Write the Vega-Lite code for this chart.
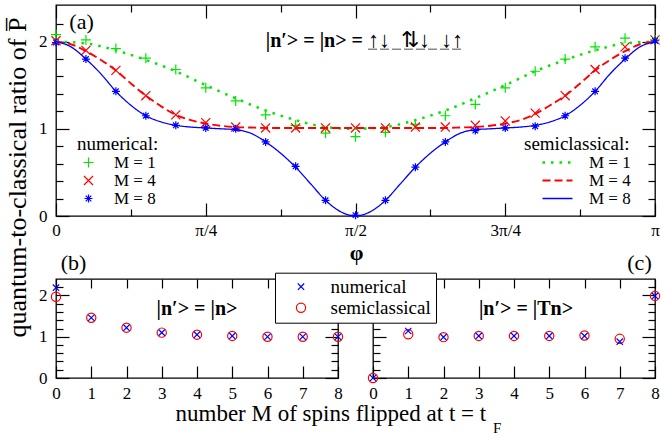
{
"$schema":"https://vega.github.io/schema/vega-lite/v6.json",
"background":"white",
"padding":{"left":3,"top":3,"right":0,"bottom":0},
"bounds":"flush",
"spacing":63,
"datasets":{
"num":[
{"phi":0,"v":2.08,"M":"M = 1"},{"phi":0.05,"v":2.02,"M":"M = 1"},{"phi":0.1,"v":1.92,"M":"M = 1"},{"phi":0.15,"v":1.81,"M":"M = 1"},{"phi":0.2,"v":1.68,"M":"M = 1"},{"phi":0.25,"v":1.47,"M":"M = 1"},{"phi":0.3,"v":1.32,"M":"M = 1"},{"phi":0.35,"v":1.16,"M":"M = 1"},{"phi":0.4,"v":1.04,"M":"M = 1"},{"phi":0.45,"v":0.95,"M":"M = 1"},{"phi":0.5,"v":0.91,"M":"M = 1"},{"phi":0.55,"v":0.96,"M":"M = 1"},{"phi":0.6,"v":1.05,"M":"M = 1"},{"phi":0.65,"v":1.15,"M":"M = 1"},{"phi":0.7,"v":1.28,"M":"M = 1"},{"phi":0.75,"v":1.47,"M":"M = 1"},{"phi":0.8,"v":1.66,"M":"M = 1"},{"phi":0.85,"v":1.8,"M":"M = 1"},{"phi":0.9,"v":1.94,"M":"M = 1"},{"phi":0.95,"v":2.04,"M":"M = 1"},{"phi":1,"v":2.02,"M":"M = 1"},
{"phi":0,"v":2.01,"M":"M = 4"},{"phi":0.05,"v":1.9,"M":"M = 4"},{"phi":0.1,"v":1.67,"M":"M = 4"},{"phi":0.15,"v":1.38,"M":"M = 4"},{"phi":0.2,"v":1.16,"M":"M = 4"},{"phi":0.25,"v":1.07,"M":"M = 4"},{"phi":0.3,"v":1.02,"M":"M = 4"},{"phi":0.35,"v":1.01,"M":"M = 4"},{"phi":0.4,"v":1.01,"M":"M = 4"},{"phi":0.45,"v":1.01,"M":"M = 4"},{"phi":0.5,"v":1.01,"M":"M = 4"},{"phi":0.55,"v":1.01,"M":"M = 4"},{"phi":0.6,"v":1.02,"M":"M = 4"},{"phi":0.65,"v":1.02,"M":"M = 4"},{"phi":0.7,"v":1.04,"M":"M = 4"},{"phi":0.75,"v":1.09,"M":"M = 4"},{"phi":0.8,"v":1.18,"M":"M = 4"},{"phi":0.85,"v":1.38,"M":"M = 4"},{"phi":0.9,"v":1.68,"M":"M = 4"},{"phi":0.95,"v":1.94,"M":"M = 4"},{"phi":1,"v":2.02,"M":"M = 4"},
{"phi":0,"v":1.99,"M":"M = 8"},{"phi":0.05,"v":1.8,"M":"M = 8"},{"phi":0.1,"v":1.43,"M":"M = 8"},{"phi":0.15,"v":1.15,"M":"M = 8"},{"phi":0.2,"v":1.04,"M":"M = 8"},{"phi":0.25,"v":1.01,"M":"M = 8"},{"phi":0.3,"v":1.0,"M":"M = 8"},{"phi":0.35,"v":0.85,"M":"M = 8"},{"phi":0.4,"v":0.57,"M":"M = 8"},{"phi":0.45,"v":0.18,"M":"M = 8"},{"phi":0.5,"v":0.01,"M":"M = 8"},{"phi":0.55,"v":0.18,"M":"M = 8"},{"phi":0.6,"v":0.56,"M":"M = 8"},{"phi":0.65,"v":0.85,"M":"M = 8"},{"phi":0.7,"v":0.98,"M":"M = 8"},{"phi":0.75,"v":1.01,"M":"M = 8"},{"phi":0.8,"v":1.03,"M":"M = 8"},{"phi":0.85,"v":1.15,"M":"M = 8"},{"phi":0.9,"v":1.43,"M":"M = 8"},{"phi":0.95,"v":1.81,"M":"M = 8"},{"phi":1,"v":2.01,"M":"M = 8"}
],
"semi":[
{"phi":0,"v":2.0,"M":"M = 1"},{"phi":0.05,"v":1.98,"M":"M = 1"},{"phi":0.1,"v":1.9,"M":"M = 1"},{"phi":0.15,"v":1.79,"M":"M = 1"},{"phi":0.2,"v":1.66,"M":"M = 1"},{"phi":0.25,"v":1.5,"M":"M = 1"},{"phi":0.3,"v":1.35,"M":"M = 1"},{"phi":0.35,"v":1.21,"M":"M = 1"},{"phi":0.4,"v":1.1,"M":"M = 1"},{"phi":0.45,"v":1.02,"M":"M = 1"},{"phi":0.5,"v":1.0,"M":"M = 1"},{"phi":0.55,"v":1.02,"M":"M = 1"},{"phi":0.6,"v":1.1,"M":"M = 1"},{"phi":0.65,"v":1.21,"M":"M = 1"},{"phi":0.7,"v":1.35,"M":"M = 1"},{"phi":0.75,"v":1.5,"M":"M = 1"},{"phi":0.8,"v":1.66,"M":"M = 1"},{"phi":0.85,"v":1.79,"M":"M = 1"},{"phi":0.9,"v":1.9,"M":"M = 1"},{"phi":0.95,"v":1.98,"M":"M = 1"},{"phi":1,"v":2.0,"M":"M = 1"},
{"phi":0,"v":2.0,"M":"M = 4"},{"phi":0.025,"v":1.97,"M":"M = 4"},{"phi":0.05,"v":1.89,"M":"M = 4"},{"phi":0.075,"v":1.79,"M":"M = 4"},{"phi":0.1,"v":1.67,"M":"M = 4"},{"phi":0.125,"v":1.52,"M":"M = 4"},{"phi":0.15,"v":1.38,"M":"M = 4"},{"phi":0.175,"v":1.26,"M":"M = 4"},{"phi":0.2,"v":1.16,"M":"M = 4"},{"phi":0.225,"v":1.1,"M":"M = 4"},{"phi":0.25,"v":1.06,"M":"M = 4"},{"phi":0.275,"v":1.035,"M":"M = 4"},{"phi":0.3,"v":1.02,"M":"M = 4"},{"phi":0.325,"v":1.015,"M":"M = 4"},{"phi":0.35,"v":1.01,"M":"M = 4"},{"phi":0.375,"v":1.01,"M":"M = 4"},{"phi":0.4,"v":1.01,"M":"M = 4"},{"phi":0.425,"v":1.01,"M":"M = 4"},{"phi":0.45,"v":1.01,"M":"M = 4"},{"phi":0.475,"v":1.01,"M":"M = 4"},{"phi":0.5,"v":1.01,"M":"M = 4"},{"phi":0.525,"v":1.01,"M":"M = 4"},{"phi":0.55,"v":1.01,"M":"M = 4"},{"phi":0.575,"v":1.01,"M":"M = 4"},{"phi":0.6,"v":1.01,"M":"M = 4"},{"phi":0.625,"v":1.01,"M":"M = 4"},{"phi":0.65,"v":1.01,"M":"M = 4"},{"phi":0.675,"v":1.015,"M":"M = 4"},{"phi":0.7,"v":1.02,"M":"M = 4"},{"phi":0.725,"v":1.035,"M":"M = 4"},{"phi":0.75,"v":1.06,"M":"M = 4"},{"phi":0.775,"v":1.1,"M":"M = 4"},{"phi":0.8,"v":1.17,"M":"M = 4"},{"phi":0.825,"v":1.27,"M":"M = 4"},{"phi":0.85,"v":1.38,"M":"M = 4"},{"phi":0.875,"v":1.52,"M":"M = 4"},{"phi":0.9,"v":1.67,"M":"M = 4"},{"phi":0.925,"v":1.79,"M":"M = 4"},{"phi":0.95,"v":1.89,"M":"M = 4"},{"phi":0.975,"v":1.97,"M":"M = 4"},{"phi":1,"v":2.0,"M":"M = 4"},
{"phi":0,"v":2.0,"M":"M = 8"},{"phi":0.025,"v":1.94,"M":"M = 8"},{"phi":0.05,"v":1.8,"M":"M = 8"},{"phi":0.075,"v":1.63,"M":"M = 8"},{"phi":0.1,"v":1.43,"M":"M = 8"},{"phi":0.125,"v":1.27,"M":"M = 8"},{"phi":0.15,"v":1.15,"M":"M = 8"},{"phi":0.175,"v":1.08,"M":"M = 8"},{"phi":0.2,"v":1.04,"M":"M = 8"},{"phi":0.225,"v":1.02,"M":"M = 8"},{"phi":0.25,"v":1.01,"M":"M = 8"},{"phi":0.275,"v":1.0,"M":"M = 8"},{"phi":0.3,"v":0.99,"M":"M = 8"},{"phi":0.325,"v":0.95,"M":"M = 8"},{"phi":0.35,"v":0.85,"M":"M = 8"},{"phi":0.375,"v":0.72,"M":"M = 8"},{"phi":0.4,"v":0.56,"M":"M = 8"},{"phi":0.425,"v":0.37,"M":"M = 8"},{"phi":0.45,"v":0.18,"M":"M = 8"},{"phi":0.475,"v":0.05,"M":"M = 8"},{"phi":0.5,"v":0.0,"M":"M = 8"},{"phi":0.525,"v":0.05,"M":"M = 8"},{"phi":0.55,"v":0.18,"M":"M = 8"},{"phi":0.575,"v":0.37,"M":"M = 8"},{"phi":0.6,"v":0.56,"M":"M = 8"},{"phi":0.625,"v":0.72,"M":"M = 8"},{"phi":0.65,"v":0.85,"M":"M = 8"},{"phi":0.675,"v":0.95,"M":"M = 8"},{"phi":0.7,"v":0.99,"M":"M = 8"},{"phi":0.725,"v":1.0,"M":"M = 8"},{"phi":0.75,"v":1.01,"M":"M = 8"},{"phi":0.775,"v":1.02,"M":"M = 8"},{"phi":0.8,"v":1.04,"M":"M = 8"},{"phi":0.825,"v":1.08,"M":"M = 8"},{"phi":0.85,"v":1.15,"M":"M = 8"},{"phi":0.875,"v":1.27,"M":"M = 8"},{"phi":0.9,"v":1.43,"M":"M = 8"},{"phi":0.925,"v":1.63,"M":"M = 8"},{"phi":0.95,"v":1.8,"M":"M = 8"},{"phi":0.975,"v":1.94,"M":"M = 8"},{"phi":1,"v":2.0,"M":"M = 8"}
],
"b":[
{"M":0,"v":1.97,"kind":"semiclassical"},{"M":1,"v":1.46,"kind":"semiclassical"},{"M":2,"v":1.22,"kind":"semiclassical"},{"M":3,"v":1.1,"kind":"semiclassical"},{"M":4,"v":1.05,"kind":"semiclassical"},{"M":5,"v":1.02,"kind":"semiclassical"},{"M":6,"v":1.0,"kind":"semiclassical"},{"M":7,"v":1.0,"kind":"semiclassical"},{"M":8,"v":1.0,"kind":"semiclassical"},
{"M":0,"v":2.19,"kind":"numerical"},{"M":1,"v":1.46,"kind":"numerical"},{"M":2,"v":1.22,"kind":"numerical"},{"M":3,"v":1.1,"kind":"numerical"},{"M":4,"v":1.05,"kind":"numerical"},{"M":5,"v":1.02,"kind":"numerical"},{"M":6,"v":1.0,"kind":"numerical"},{"M":7,"v":1.0,"kind":"numerical"},{"M":8,"v":1.0,"kind":"numerical"}
],
"c":[
{"M":0,"v":0.0,"kind":"semiclassical"},{"M":1,"v":1.06,"kind":"semiclassical"},{"M":2,"v":0.99,"kind":"semiclassical"},{"M":3,"v":1.02,"kind":"semiclassical"},{"M":4,"v":1.02,"kind":"semiclassical"},{"M":5,"v":1.02,"kind":"semiclassical"},{"M":6,"v":1.03,"kind":"semiclassical"},{"M":7,"v":0.95,"kind":"semiclassical"},{"M":8,"v":1.99,"kind":"semiclassical"},
{"M":0,"v":0.0,"kind":"numerical"},{"M":1,"v":1.14,"kind":"numerical"},{"M":2,"v":0.99,"kind":"numerical"},{"M":3,"v":1.02,"kind":"numerical"},{"M":4,"v":1.02,"kind":"numerical"},{"M":5,"v":1.02,"kind":"numerical"},{"M":6,"v":1.02,"kind":"numerical"},{"M":7,"v":0.88,"kind":"numerical"},{"M":8,"v":1.99,"kind":"numerical"}
]
},
"vconcat":[
{
"width":599,"height":211,
"layer":[
{"data":{"name":"num"},
 "mark":{"type":"point","filled":false,"strokeWidth":1.2,"opacity":1},
 "encoding":{
  "x":{"field":"phi","type":"quantitative","scale":{"domain":[0,1],"nice":false,"zero":false},
   "axis":{"orient":"bottom","values":[0,0.25,0.5,0.75,1],"labelExpr":"datum.value == 0 ? '0' : datum.value == 0.25 ? 'π/4' : datum.value == 0.5 ? 'π/2' : datum.value == 0.75 ? '3π/4' : 'π'","ticks":false,"labelPadding":19,"labelBaseline":"alphabetic","labelFont":"Liberation Serif","labelFontSize":17,"title":"φ","titleFont":"Liberation Serif","titleFontSize":22,"titleFontWeight":"bold","titleX":300,"titleY":43,"titleAlign":"center","titleBaseline":"alphabetic"}},
  "y":{"field":"v","type":"quantitative","scale":{"domain":[0,2.42],"nice":false,"zero":false},
   "axis":{"orient":"left","values":[0,1,2],"ticks":false,"labelPadding":9,"labelFont":"Liberation Serif","labelFontSize":17,"title":"quantum-to-classical ratio of P\u0305","titleFont":"Liberation Serif","titleFontSize":26,"titleFontWeight":"normal","titleAngle":270,"titleX":-26,"titleY":172,"titleAlign":"center","titleBaseline":"bottom"}},
  "color":{"field":"M","type":"nominal","scale":{"domain":["M = 1","M = 4","M = 8"],"range":["#00e600","#ff0000","#0000ff"]},
   "legend":{"orient":"none","legendX":21,"legendY":130,"title":"numerical:","titleFont":"Liberation Serif","labelFont":"Liberation Serif","titleFontSize":19,"titleFontWeight":"normal","titlePadding":0,"labelFontSize":17,"labelOffset":17,"symbolOffset":3,"rowPadding":0,"padding":0,"symbolStrokeWidth":1.2,"symbolSize":90}},
  "shape":{"field":"M","type":"nominal","scale":{"domain":["M = 1","M = 4","M = 8"],"range":["M-1,0L1,0M0,-1L0,1","M-1,-1L1,1M-1,1L1,-1","M-1,0L1,0M0,-1L0,1M-0.7,-0.7L0.7,0.7M-0.7,0.7L0.7,-0.7"]},
   "legend":{"orient":"none","legendX":21,"legendY":130,"title":"numerical:","titleFont":"Liberation Serif","labelFont":"Liberation Serif","titleFontSize":19,"titleFontWeight":"normal","titlePadding":0,"labelFontSize":17,"labelOffset":17,"symbolOffset":3,"rowPadding":0,"padding":0,"symbolStrokeWidth":1.2,"symbolSize":90}},
  "size":{"field":"M","type":"ordinal","scale":{"domain":["M = 1","M = 4","M = 8"],"range":[100,64,110]},"legend":null}
 }},
{"data":{"name":"semi"},
 "mark":{"type":"line","interpolate":"monotone"},
 "encoding":{
  "x":{"field":"phi","type":"quantitative","axis":{"orient":"bottom","values":[0,0.125,0.25,0.375,0.5,0.625,0.75,0.875,1],"labels":false,"title":null,"tickSize":{"condition":{"test":"datum.value % 0.25 === 0","value":-13},"value":-7},"tickWidth":1.2}},
  "y":{"field":"v","type":"quantitative","axis":{"orient":"left","values":[0,0.2,0.4,0.6,0.8,1,1.2,1.4,1.6,1.8,2,2.2],"labels":false,"title":null,"tickSize":{"condition":{"test":"abs(datum.value - round(datum.value)) < 0.001","value":-13},"value":-7},"tickWidth":1.2}},
  "color":{"field":"M","type":"nominal","scale":{"domain":["M = 1","M = 4","M = 8"],"range":["#00e600","#ff0000","#0000ff"]},
   "legend":{"orient":"none","legendX":468,"legendY":130,"title":"semiclassical:","titleFont":"Liberation Serif","labelFont":"Liberation Serif","titleFontSize":19,"titleFontWeight":"normal","titlePadding":0,"labelFontSize":17,"labelOffset":23,"symbolOffset":25,"rowPadding":0,"padding":0,"symbolType":"M-3,0L3,0","symbolSize":100}},
  "strokeDash":{"field":"M","type":"nominal","scale":{"domain":["M = 1","M = 4","M = 8"],"range":[[2.5,6],[8,4],[1,0]]},
   "legend":{"orient":"none","legendX":468,"legendY":130,"title":"semiclassical:","titleFont":"Liberation Serif","labelFont":"Liberation Serif","titleFontSize":19,"titleFontWeight":"normal","titlePadding":0,"labelFontSize":17,"labelOffset":23,"symbolOffset":25,"rowPadding":0,"padding":0,"symbolType":"M-3,0L3,0","symbolSize":100}},
  "strokeWidth":{"field":"M","type":"ordinal","scale":{"domain":["M = 1","M = 4","M = 8"],"range":[2.5,1.3,1.3]},
   "legend":{"orient":"none","legendX":468,"legendY":130,"title":"semiclassical:","titleFont":"Liberation Serif","labelFont":"Liberation Serif","titleFontSize":19,"titleFontWeight":"normal","titlePadding":0,"labelFontSize":17,"labelOffset":23,"symbolOffset":25,"rowPadding":0,"padding":0,"symbolType":"M-3,0L3,0","symbolSize":100}}
 }},
{"data":{"values":[{}]},
 "mark":{"type":"text","font":"Liberation Serif","fontSize":22,"baseline":"middle","align":"center","color":"black"},
 "encoding":{
  "x":{"datum":0.0426,"type":"quantitative","axis":{"orient":"top","values":[0,0.125,0.25,0.375,0.5,0.625,0.75,0.875,1],"labels":false,"title":null,"tickSize":{"condition":{"test":"datum.value % 0.25 === 0","value":-13},"value":-7},"tickWidth":1.2}},
  "y":{"datum":2.22,"type":"quantitative","axis":{"orient":"right","values":[0,0.2,0.4,0.6,0.8,1,1.2,1.4,1.6,1.8,2,2.2],"labels":false,"title":null,"tickSize":{"condition":{"test":"abs(datum.value - round(datum.value)) < 0.001","value":-13},"value":-7},"tickWidth":1.2}},
  "text":{"value":"(a)"}
 }},
{"data":{"values":[{}]},
 "mark":{"type":"text","font":"Liberation Serif","fontSize":20,"fontWeight":"bold","baseline":"alphabetic","align":"right","color":"black"},
 "encoding":{
  "x":{"datum":0.5125,"type":"quantitative","axis":null},
  "y":{"datum":1.943,"type":"quantitative","axis":null},
  "text":{"value":"|n′> = |n> ="}
 }},
{"data":{"values":[{}]},
 "mark":{"type":"text","font":"Liberation Serif","fontSize":22,"baseline":"alphabetic","align":"left","color":"black"},
 "encoding":{
  "x":{"datum":0.5209,"type":"quantitative","axis":null},
  "y":{"datum":1.943,"type":"quantitative","axis":null},
  "text":{"value":"↑↓\u2002⇅↓\u2002↓↑"}
 }},
{"data":{"values":[{}]},
 "mark":{"type":"rule","color":"#888888","strokeWidth":1.5,"strokeDash":[9,3]},
 "encoding":{
  "x":{"datum":0.5209,"type":"quantitative","axis":null},
  "x2":{"datum":0.6795},
  "y":{"datum":1.912,"type":"quantitative","axis":null}
 }}
],
"resolve":{
 "scale":{"color":"independent","shape":"independent","strokeDash":"independent","strokeWidth":"independent","size":"independent"},
 "legend":{"color":"independent","shape":"independent","strokeDash":"independent","strokeWidth":"independent","size":"independent"},
 "axis":{"x":"independent","y":"independent"}
}
},
{
"hconcat":[
{
"width":282,"height":99,
"layer":[
{"data":{"name":"b"},
 "mark":{"type":"point","filled":false,"strokeWidth":1.2,"opacity":1},
 "encoding":{
  "x":{"field":"M","type":"quantitative","scale":{"domain":[0,8],"nice":false,"zero":false},
   "axis":{"orient":"bottom","values":[0,1,2,3,4,5,6,7,8],"ticks":false,"labelPadding":20,"labelBaseline":"alphabetic","labelFont":"Liberation Serif","labelFontSize":17,"title":"number M of spins flipped at t = t","titleFont":"Liberation Serif","titleFontSize":23,"titleFontWeight":"normal","titleX":119,"titleY":42.6,"titleAlign":"left","titleBaseline":"alphabetic"}},
  "y":{"field":"v","type":"quantitative","scale":{"domain":[0,2.4],"nice":false,"zero":false},
   "axis":{"orient":"left","values":[0,1,2],"ticks":false,"labelPadding":9,"labelFont":"Liberation Serif","labelFontSize":17,"title":null}},
  "color":{"field":"kind","type":"nominal","scale":{"domain":["numerical","semiclassical"],"range":["#0000ff","#ff0000"]},
   "legend":{"orient":"none","legendX":219,"legendY":267.7,"title":null,"labelFont":"Liberation Serif","strokeColor":"black","fillColor":"white","padding":4.5,"labelFontSize":19,"labelOffset":20,"symbolOffset":12,"rowPadding":1,"symbolSize":70,"symbolStrokeWidth":1.2}},
  "shape":{"field":"kind","type":"nominal","scale":{"domain":["numerical","semiclassical"],"range":["M-1,-1L1,1M-1,1L1,-1","circle"]},
   "legend":{"orient":"none","legendX":219,"legendY":267.7,"title":null,"labelFont":"Liberation Serif","strokeColor":"black","fillColor":"white","padding":4.5,"labelFontSize":19,"labelOffset":20,"symbolOffset":12,"rowPadding":1,"symbolSize":70,"symbolStrokeWidth":1.2}},
  "size":{"field":"kind","type":"ordinal","scale":{"domain":["numerical","semiclassical"],"range":[40,85]},"legend":null}
 }},
{"data":{"values":[{}]},
 "mark":{"type":"text","font":"Liberation Serif","fontSize":22,"baseline":"middle","align":"center","color":"black"},
 "encoding":{
  "x":{"datum":0.5,"type":"quantitative","axis":{"orient":"bottom","values":[0,1,2,3,4,5,6,7,8],"labels":false,"title":null,"tickSize":-12,"tickWidth":1.2}},
  "y":{"datum":2.78,"type":"quantitative","axis":{"orient":"left","values":[0,0.2,0.4,0.6,0.8,1,1.2,1.4,1.6,1.8,2,2.2],"labels":false,"title":null,"tickSize":{"condition":{"test":"abs(datum.value - round(datum.value)) < 0.001","value":-13},"value":-7},"tickWidth":1.2}},
  "text":{"value":"(b)"}
 }},
{"data":{"values":[{}]},
 "mark":{"type":"text","font":"Liberation Serif","fontSize":20,"fontWeight":"bold","baseline":"middle","align":"center","color":"black"},
 "encoding":{
  "x":{"datum":4.0,"type":"quantitative","axis":{"orient":"top","values":[0,1,2,3,4,5,6,7,8],"labels":false,"title":null,"tickSize":-9,"tickWidth":1.2}},
  "y":{"datum":1.67,"type":"quantitative","axis":{"orient":"right","values":[0,0.2,0.4,0.6,0.8,1,1.2,1.4,1.6,1.8,2,2.2],"labels":false,"title":null,"tickSize":{"condition":{"test":"abs(datum.value - round(datum.value)) < 0.001","value":-13},"value":-7},"tickWidth":1.2}},
  "text":{"value":"|n′> = |n>"}
 }}
],
"resolve":{"axis":{"x":"independent","y":"independent"}}
},
{
"width":282,"height":99,
"layer":[
{"data":{"name":"c"},
 "mark":{"type":"point","filled":false,"strokeWidth":1.2,"opacity":1},
 "encoding":{
  "x":{"field":"M","type":"quantitative","scale":{"domain":[0,8],"nice":false,"zero":false},
   "axis":{"orient":"bottom","values":[0,1,2,3,4,5,6,7,8],"ticks":false,"labelPadding":20,"labelBaseline":"alphabetic","labelFont":"Liberation Serif","labelFontSize":17,"title":"F","titleFont":"Liberation Serif","titleFontSize":15,"titleFontWeight":"normal","titleX":119.4,"titleY":54,"titleAlign":"left","titleBaseline":"alphabetic"}},
  "y":{"field":"v","type":"quantitative","scale":{"domain":[0,2.4],"nice":false,"zero":false},
   "axis":{"orient":"left","values":[0,0.2,0.4,0.6,0.8,1,1.2,1.4,1.6,1.8,2,2.2],"labels":false,"title":null,"tickSize":{"condition":{"test":"abs(datum.value - round(datum.value)) < 0.001","value":-13},"value":-7},"tickWidth":1.2}},
  "color":{"field":"kind","type":"nominal","scale":{"domain":["numerical","semiclassical"],"range":["#0000ff","#ff0000"]},"legend":null},
  "shape":{"field":"kind","type":"nominal","scale":{"domain":["numerical","semiclassical"],"range":["M-1,-1L1,1M-1,1L1,-1","circle"]},"legend":null},
  "size":{"field":"kind","type":"ordinal","scale":{"domain":["numerical","semiclassical"],"range":[40,85]},"legend":null}
 }},
{"data":{"values":[{}]},
 "mark":{"type":"text","font":"Liberation Serif","fontSize":22,"baseline":"middle","align":"center","color":"black"},
 "encoding":{
  "x":{"datum":7.56,"type":"quantitative","axis":{"orient":"bottom","values":[0,1,2,3,4,5,6,7,8],"labels":false,"title":null,"tickSize":-12,"tickWidth":1.2}},
  "y":{"datum":2.78,"type":"quantitative","axis":{"orient":"right","values":[0,0.2,0.4,0.6,0.8,1,1.2,1.4,1.6,1.8,2,2.2],"labels":false,"title":null,"tickSize":{"condition":{"test":"abs(datum.value - round(datum.value)) < 0.001","value":-13},"value":-7},"tickWidth":1.2}},
  "text":{"value":"(c)"}
 }},
{"data":{"values":[{}]},
 "mark":{"type":"text","font":"Liberation Serif","fontSize":20,"fontWeight":"bold","baseline":"middle","align":"center","color":"black"},
 "encoding":{
  "x":{"datum":4.34,"type":"quantitative","axis":{"orient":"top","values":[0,1,2,3,4,5,6,7,8],"labels":false,"title":null,"tickSize":-9,"tickWidth":1.2}},
  "y":{"datum":1.67,"type":"quantitative","axis":null},
  "text":{"value":"|n′> = |Tn>"}
 }}
],
"resolve":{"axis":{"x":"independent","y":"independent"}}
}
],
"spacing":35,
"bounds":"flush"
}
],
"config":{
 "font":"Liberation Serif",
 "view":{"stroke":"black","strokeWidth":1.3},
 "axis":{"domain":false,"grid":false,"labelColor":"black","tickColor":"black","titleColor":"black","labelFont":"Liberation Serif","titleFont":"Liberation Serif","labelFlush":false,"labelOverlap":false},
 "legend":{"labelFont":"Liberation Serif","titleFont":"Liberation Serif","labelColor":"black","titleColor":"black"}
}
}
